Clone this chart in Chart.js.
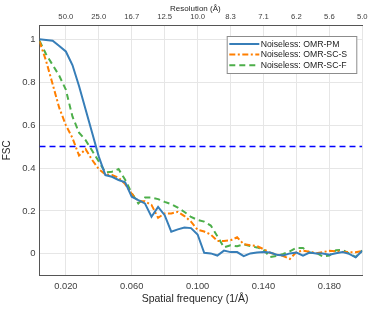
<!DOCTYPE html>
<html>
<head>
<meta charset="utf-8">
<script src="https://cdn.jsdelivr.net/npm/chart.js@4"></script>
<style>
  html, body { margin: 0; padding: 0; background: #fff; }
  #wrap { width: 373px; height: 309px; }
</style>
</head>
<body>
<div id="wrap"><canvas id="fsc"></canvas></div>
<script>
// spatial frequency shells (1/A)
var freq = [0.004, 0.008, 0.012, 0.016, 0.020, 0.024, 0.028, 0.032, 0.036, 0.040,
            0.044, 0.048, 0.052, 0.056, 0.060, 0.064, 0.068, 0.072, 0.076, 0.080,
            0.084, 0.088, 0.092, 0.096, 0.100, 0.104, 0.108, 0.112, 0.116, 0.120,
            0.124, 0.128, 0.132, 0.136, 0.140, 0.144, 0.148, 0.152, 0.156, 0.160,
            0.164, 0.168, 0.172, 0.176, 0.180, 0.184, 0.188, 0.192, 0.196, 0.200];

var fscPM = [1.0, 0.997, 0.993, 0.969, 0.943, 0.88, 0.782, 0.673, 0.563, 0.453,
             0.367, 0.359, 0.344, 0.333, 0.266, 0.25, 0.235, 0.173, 0.219, 0.18,
             0.103, 0.114, 0.123, 0.12, 0.09, 0.005, 0.002, -0.008, 0.015, 0.008,
             0.008, -0.011, 0.002, 0.006, 0.009, 0.006, -0.004, -0.008, 0.002, 0.006,
             -0.008, 0.006, 0.002, 0.002, -0.004, 0.003, 0.008, 0.0, -0.016, 0.014];

var fscSCS = [0.99, 0.899, 0.79, 0.68, 0.60, 0.54, 0.458, 0.488, 0.437, 0.395,
              0.37, 0.367, 0.355, 0.325, 0.28, 0.245, 0.245, 0.228, 0.168, 0.188,
              0.188, 0.196, 0.176, 0.15, 0.112, 0.104, 0.09, 0.06, 0.06, 0.063,
              0.077, 0.045, 0.04, 0.036, 0.022, 0.005, -0.004, -0.01, -0.024, 0.008,
              0.015, 0.01, 0.003, 0.008, 0.014, 0.012, 0.009, 0.008, 0.007, 0.014];

var fscSCF = [0.993, 0.93, 0.88, 0.83, 0.765, 0.64, 0.565, 0.53, 0.48, 0.43,
              0.38, 0.383, 0.395, 0.345, 0.283, 0.235, 0.262, 0.262, 0.255, 0.242,
              0.232, 0.215, 0.195, 0.172, 0.158, 0.15, 0.132, 0.082, 0.03, 0.04,
              0.035, 0.044, 0.036, 0.03, 0.02, -0.015, -0.01, 0.0, 0.012, 0.028,
              0.027, 0.005, 0.005, -0.013, -0.008, 0.017, 0.018, 0.002, -0.015, 0.016];

var seriesNames = ['Noiseless: OMR-PM', 'Noiseless: OMR-SC-S', 'Noiseless: OMR-SC-F'];
var threshold = 0.5;

var xTicks = [0.02, 0.04, 0.06, 0.08, 0.10, 0.12, 0.14, 0.16, 0.18, 0.20];
var resolutionLabels = ['50.0', '25.0', '16.7', '12.5', '10.0', '8.3', '7.1', '6.2', '5.6', '5.0'];
var yTicks = [0, 0.2, 0.4, 0.6, 0.8, 1];

var FONT = '"Liberation Sans", Arial, Helvetica, sans-serif';

function pts(ys) {
    return ys.map(function (y, i) { return { x: freq[i], y: y }; });
}

// legend box drawn inside the plot, MATLAB style
var boxLegend = {
    id: 'boxLegend',
    afterDatasetsDraw: function (chart) {
        var ctx = chart.ctx, area = chart.chartArea;
        var w = 130.6, h = 38;
        var left = area.right - 5 - w, top = area.top + 10.7;
        ctx.save();
        ctx.fillStyle = '#fff';
        ctx.fillRect(left, top, w, h);
        ctx.strokeStyle = '#8c8c8c';
        ctx.lineWidth = 1;
        ctx.strokeRect(left + 0.5, top + 0.5, w - 1, h - 1);
        ctx.font = '8.7px ' + FONT;
        ctx.textBaseline = 'middle';
        for (var i = 0; i < 3; i++) {
            var ds = chart.data.datasets[i];
            var yy = top + 8 + i * 10.6;
            ctx.beginPath();
            ctx.setLineDash(ds.borderDash || []);
            ctx.strokeStyle = ds.borderColor;
            ctx.lineWidth = ds.borderWidth;
            ctx.moveTo(left + 2.6, yy);
            ctx.lineTo(left + 32.6, yy);
            ctx.stroke();
            ctx.setLineDash([]);
            ctx.fillStyle = '#222';
            ctx.fillText(ds.label, left + 34, yy + 0.5);
        }
        ctx.restore();
    }
};

var ctx = document.getElementById('fsc').getContext('2d');
var fscChart = new Chart(ctx, {
    type: 'line',
    data: {
        datasets: [{
            label: seriesNames[0],
            data: pts(fscPM),
            borderColor: '#377eb8',
            borderWidth: 2
        }, {
            label: seriesNames[1],
            data: pts(fscSCS),
            borderColor: '#ff7f00',
            borderWidth: 2,
            borderDash: [6, 2.5, 2, 2.5]
        }, {
            label: seriesNames[2],
            data: pts(fscSCF),
            borderColor: '#4daf4a',
            borderWidth: 2,
            borderDash: [6, 4]
        }, {
            label: 'threshold',
            data: [{ x: 0.004, y: threshold }, { x: 0.2, y: threshold }],
            borderColor: '#0000ff',
            borderWidth: 1.6,
            borderDash: [6, 4]
        }]
    },
    options: {
        responsive: true,
        maintainAspectRatio: false,
        animation: false,
        layout: { padding: { left: 0, right: 10.7, top: 0, bottom: 0 } },
        elements: { point: { radius: 0 }, line: { tension: 0, fill: false } },
        plugins: { legend: { display: false }, tooltip: { enabled: false } },
        scales: {
            x: {
                type: 'linear',
                position: 'bottom',
                min: 0.004,
                max: 0.2,
                afterBuildTicks: function (s) { s.ticks = xTicks.map(function (v) { return { value: v }; }); },
                afterFit: function (s) { s.height = 33.7; },
                grid: { color: '#e6e6e6', drawTicks: false },
                border: { color: '#555' },
                ticks: {
                    padding: 6,
                    maxRotation: 0,
                    autoSkip: false,
                    color: '#404040',
                    font: { family: FONT, size: 9.3 },
                    callback: function (v, i) { return i % 2 === 0 ? v.toFixed(3) : ''; }
                },
                title: {
                    display: true,
                    text: 'Spatial frequency (1/Å)    ',
                    color: '#262626',
                    font: { family: FONT, size: 10.5 },
                    padding: { top: 1, bottom: 3.4 }
                }
            },
            xTop: {
                type: 'linear',
                position: 'top',
                min: 0.004,
                max: 0.2,
                afterBuildTicks: function (s) { s.ticks = xTicks.map(function (v) { return { value: v }; }); },
                afterFit: function (s) { s.height = 25.3; },
                grid: { display: false, drawTicks: false },
                border: { color: '#555' },
                ticks: {
                    padding: 4,
                    maxRotation: 0,
                    autoSkip: false,
                    color: '#404040',
                    font: { family: FONT, size: 7.7 },
                    callback: function (v, i) { return resolutionLabels[i]; }
                },
                title: {
                    display: true,
                    text: 'Resolution (Å)     ',
                    color: '#262626',
                    font: { family: FONT, size: 8 },
                    padding: { top: 4, bottom: 1 }
                }
            },
            y: {
                min: -0.1,
                max: 1.065,
                afterBuildTicks: function (s) { s.ticks = yTicks.map(function (v) { return { value: v }; }); },
                afterFit: function (s) { s.width = 39.5; },
                grid: { color: '#e6e6e6', drawTicks: false },
                border: { color: '#555' },
                ticks: {
                    padding: 4,
                    color: '#404040',
                    font: { family: FONT, size: 9.5 },
                    callback: function (v) { return String(Math.round(v * 10) / 10); }
                },
                title: {
                    display: true,
                    text: 'FSC',
                    color: '#262626',
                    font: { family: FONT, size: 10 },
                    padding: { top: 1, bottom: 0 }
                }
            }
        }
    },
    plugins: [boxLegend]
});
</script>
</body>
</html>
